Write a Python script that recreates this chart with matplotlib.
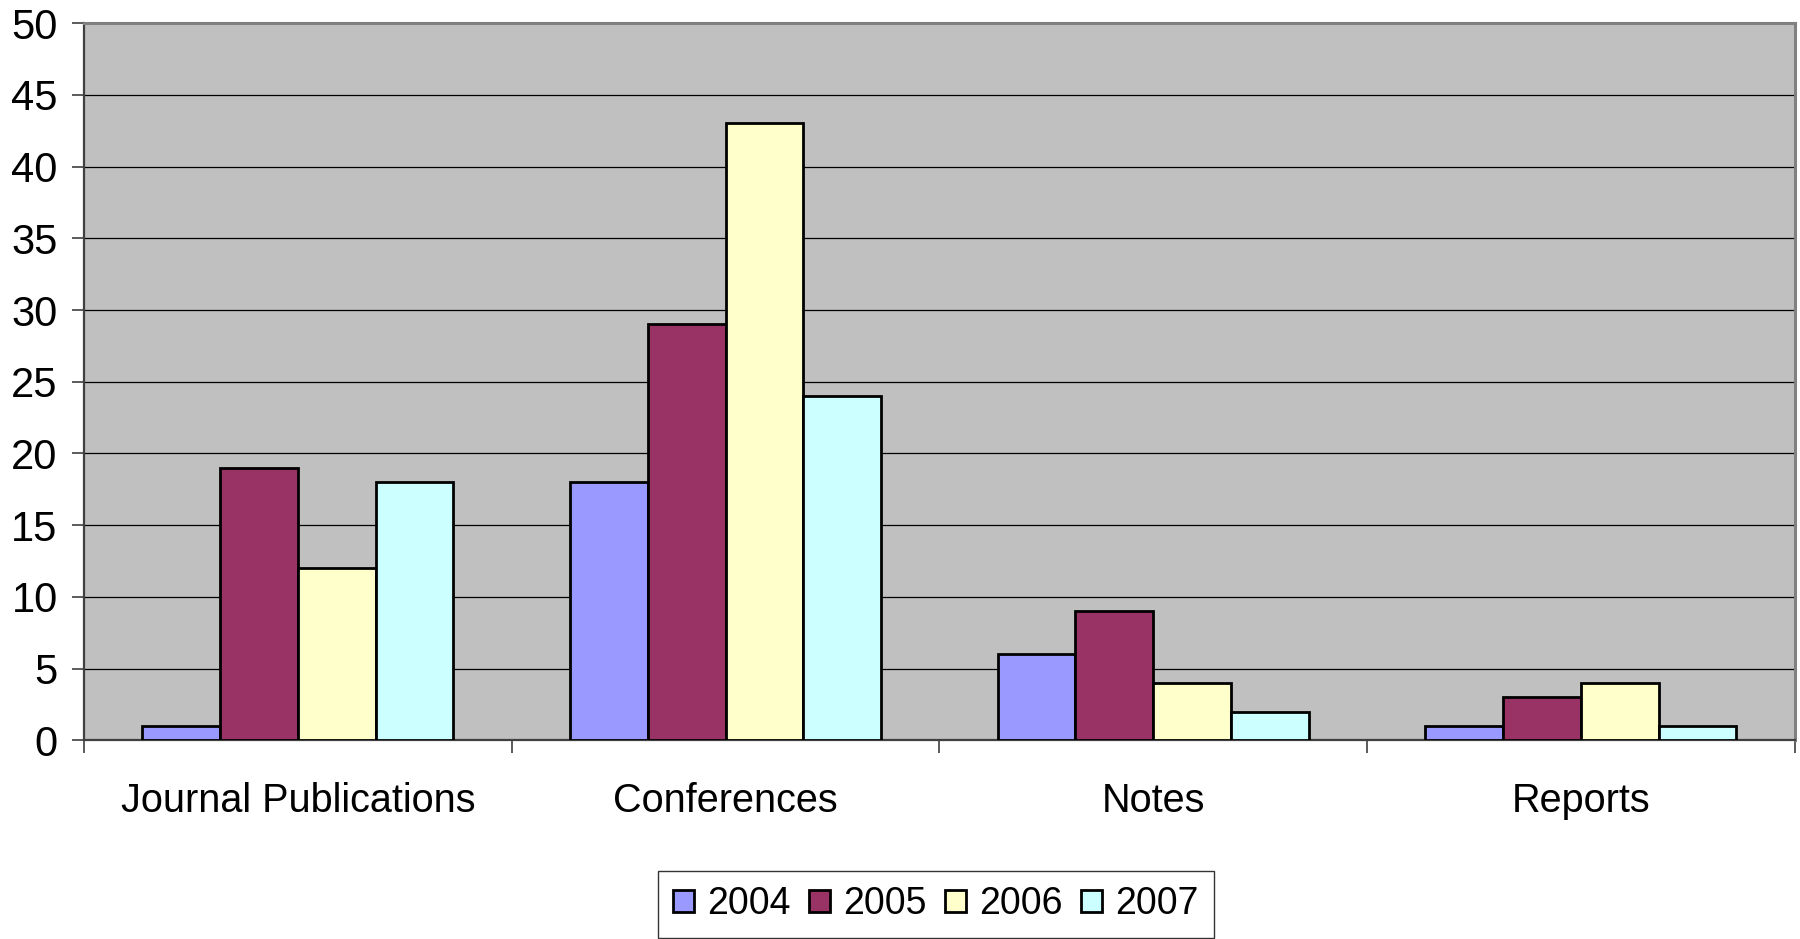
import numpy as np
import matplotlib.pyplot as plt

plt.rc('font', family=['Liberation Sans', 'DejaVu Sans'], size=28)

categories = ['Journal Publications', 'Conferences', 'Notes', 'Reports']
years = ['2004', '2005', '2006', '2007']
counts_2004 = [1, 18, 6, 1]
counts_2005 = [19, 29, 9, 3]
counts_2006 = [12, 43, 4, 4]
counts_2007 = [18, 24, 2, 1]
colors = ['#9999FF', '#993366', '#FFFFCC', '#CCFFFF']

series = [counts_2004, counts_2005, counts_2006, counts_2007]

fig = plt.figure(figsize=(18, 9.39), dpi=100)
ax = fig.add_axes([0.0467, 0.2114, 0.9503, 0.7641])
ax.set_facecolor('#C0C0C0')

x = np.arange(len(categories))
width = 1 / 5.5  # four bars plus a 150% gap per group
for i, (vals, c, yr) in enumerate(zip(series, colors, years)):
    ax.bar(x + (i - 1.5) * width, vals, width, color=c, edgecolor='black',
           linewidth=2.0, label=yr, zorder=3)

ax.set_xlim(-0.5, len(categories) - 0.5)
ax.set_ylim(0, 50)
ax.set_yticks(np.arange(0, 51, 5))
ax.yaxis.grid(True, color='black', linewidth=0.9, zorder=1)
ax.set_axisbelow(True)

# group boundaries get the tick marks, labels sit at the group centres
ax.set_xticks(np.arange(-0.5, len(categories), 1.0))
ax.set_xticklabels([])
ax.set_xticks(x, minor=True)
ax.set_xticklabels(categories, minor=True, fontsize=28.5)
ax.tick_params(axis='x', which='major', direction='out', length=9, width=1.2, color='#404040')
ax.tick_params(axis='x', which='minor', length=0, pad=30)
ax.tick_params(axis='y', direction='out', length=9, width=1.2, color='#404040',
               pad=10, labelsize=30)

for side in ['top', 'right']:
    ax.spines[side].set_color('#808080')
    ax.spines[side].set_linewidth(2.2)
ax.spines['left'].set_color('#404040')
ax.spines['left'].set_linewidth(1.6)
ax.spines['bottom'].set_color('#404040')
ax.spines['bottom'].set_linewidth(1.6)

leg = fig.legend(loc='lower center', bbox_to_anchor=(0.52, 0.001), ncol=4,
                 frameon=True, fancybox=False, edgecolor='black',
                 borderaxespad=0.0,
                 handlelength=0.55, handleheight=0.55, handletextpad=0.35,
                 columnspacing=0.5, borderpad=0.42, fontsize=27)
leg.get_frame().set_linewidth(1.0)
for h in leg.legend_handles:
    h.set_linewidth(2.0)

fig.savefig('out.png', dpi=100)
